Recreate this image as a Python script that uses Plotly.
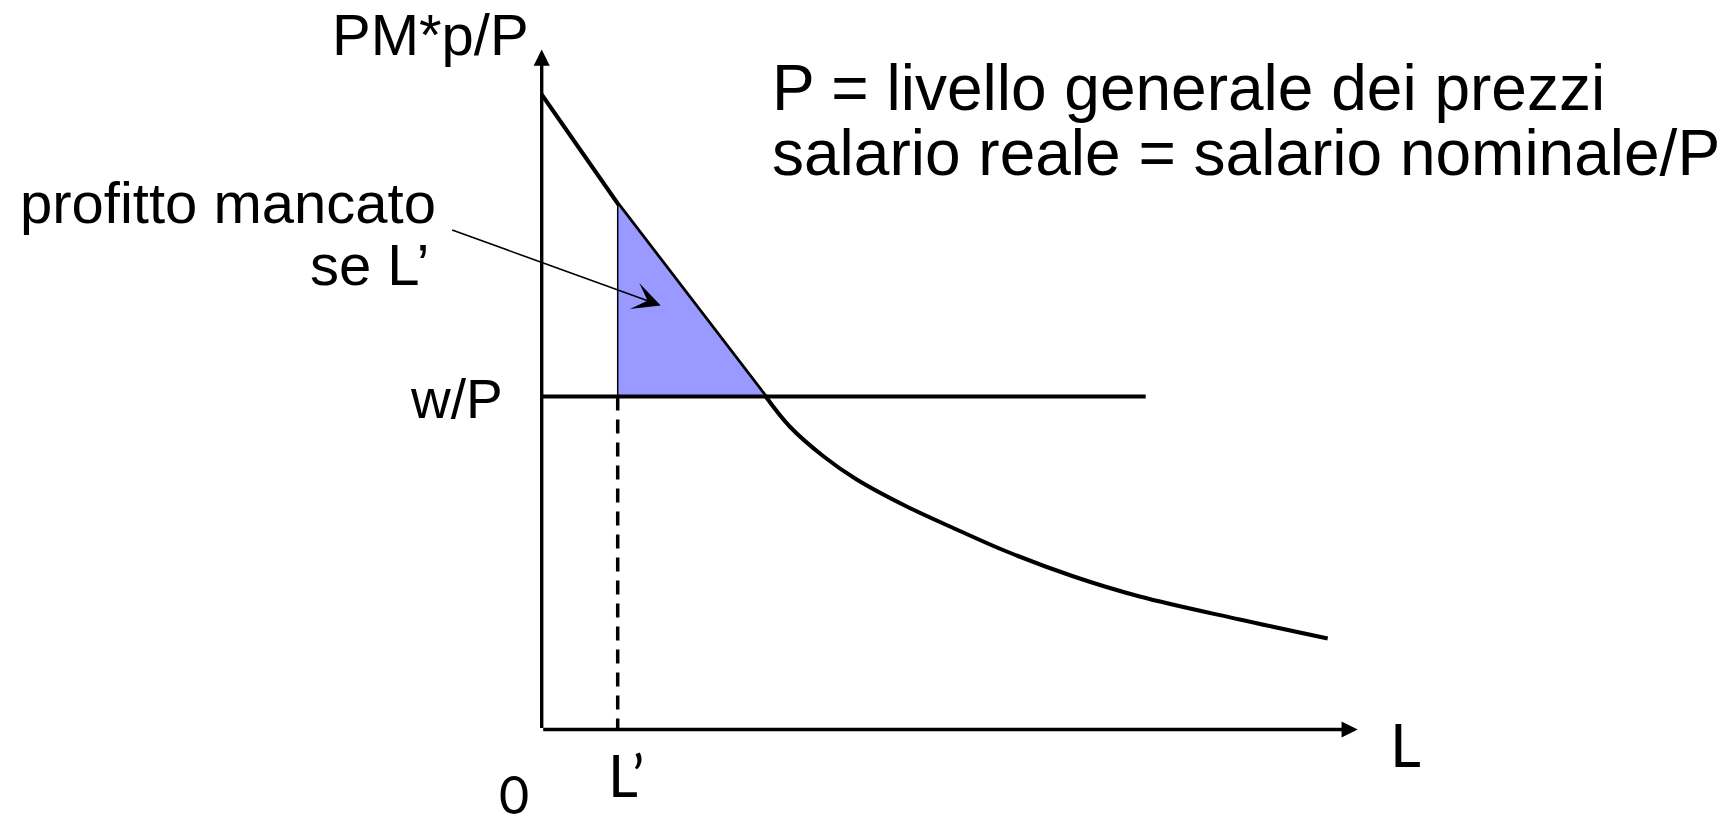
import plotly.graph_objects as go

# labour L on the x axis, PM*p/P on the y axis (arbitrary units)
L_straight = [0.0, 0.76, 2.24]
mp_straight = [6.35, 5.26, 3.33]

L_curve = [2.24, 2.48, 2.82, 3.15, 3.65, 4.15, 4.65, 5.32, 5.98, 6.98, 7.86]
mp_curve = [3.33, 3.03, 2.73, 2.50, 2.23, 2.00, 1.78, 1.53, 1.33, 1.10, 0.91]

real_wage = 3.33
wage_L = [0.0, 6.04]
L_prime = 0.76
x_axis_end = 8.16
y_axis_end = 6.80

# lost-profit triangle (between the wage line and the MP curve, right of L')
tri_L = [L_prime, L_prime, L_straight[2], L_prime]
tri_mp = [real_wage, mp_straight[1], real_wage, real_wage]

W, H = 1733, 824
X0, Y0, S = 541.7, 729.5, 100.0  # origin in px, px per unit

fig = go.Figure()

fig.add_trace(go.Scatter(x=L_straight, y=mp_straight, mode="lines",
                         line=dict(color="black", width=4)))
fig.add_trace(go.Scatter(x=L_curve, y=mp_curve, mode="lines",
                         line=dict(color="black", width=4, shape="spline")))
fig.add_trace(go.Scatter(x=tri_L, y=tri_mp, mode="lines", fill="toself",
                         fillcolor="#9999FF", line=dict(color="black", width=1.5)))
fig.add_trace(go.Scatter(x=wage_L, y=[real_wage, real_wage], mode="lines",
                         line=dict(color="black", width=4)))
fig.add_trace(go.Scatter(x=[L_prime, L_prime], y=[real_wage, 0], mode="lines",
                         line=dict(color="black", width=3.5, dash="14px,9px")))

annotations = []

# axes with arrowheads
for tip in [(x_axis_end, 0), (0, y_axis_end)]:
    annotations.append(dict(x=tip[0], y=tip[1], ax=0, ay=0, xref="x", yref="y",
                            axref="x", ayref="y", text="", showarrow=True,
                            arrowhead=2, arrowsize=0.95, arrowwidth=3.4,
                            arrowcolor="black"))

# pointer to the triangle
annotations.append(dict(x=1.19, y=4.24, ax=-0.91, ay=5.0, xref="x", yref="y",
                        axref="x", ayref="y", text="", showarrow=True,
                        arrowhead=3, arrowsize=2.9, arrowwidth=1.6,
                        arrowcolor="black"))


def label(text, x_px, base_px, size, anchor="left", family="Liberation Sans, Arial",
          k=0.3465):
    annotations.append(dict(
        text=text, xref="paper", yref="paper",
        x=x_px / W, y=1 - (base_px - k * size) / H,
        xanchor=anchor, yanchor="middle", showarrow=False,
        font=dict(family=family, size=size, color="black")))


label("PM*p/P", 531, 55, 58, "right")
label("profitto mancato", 438, 223, 58, "right")
label("se L\u2019", 431, 285, 58, "right")
label("w/P", 505, 418, 55, "right")
label("P = livello generale dei prezzi", 770, 110, 64)
label("salario reale = salario nominale/P", 770, 175, 64)
label("L", 1388, 767, 60, family="Lato", k=0.387)
label("L\u2019", 606, 797, 58, family="Lato", k=0.387)
label("0", 497, 814, 52, family="Lato", k=0.387)

fig.update_layout(
    width=W, height=H,
    margin=dict(l=0, r=0, t=0, b=0),
    paper_bgcolor="white", plot_bgcolor="white",
    showlegend=False,
    xaxis=dict(range=[(0 - X0) / S, (W - X0) / S], visible=False),
    yaxis=dict(range=[(Y0 - H) / S, Y0 / S], visible=False),
    annotations=annotations,
)

# drop the default 8px page margin so the figure sits in the window corner
fig.write_html("out.html", config={"displayModeBar": False},
               post_script="document.body.style.margin = '0';")
